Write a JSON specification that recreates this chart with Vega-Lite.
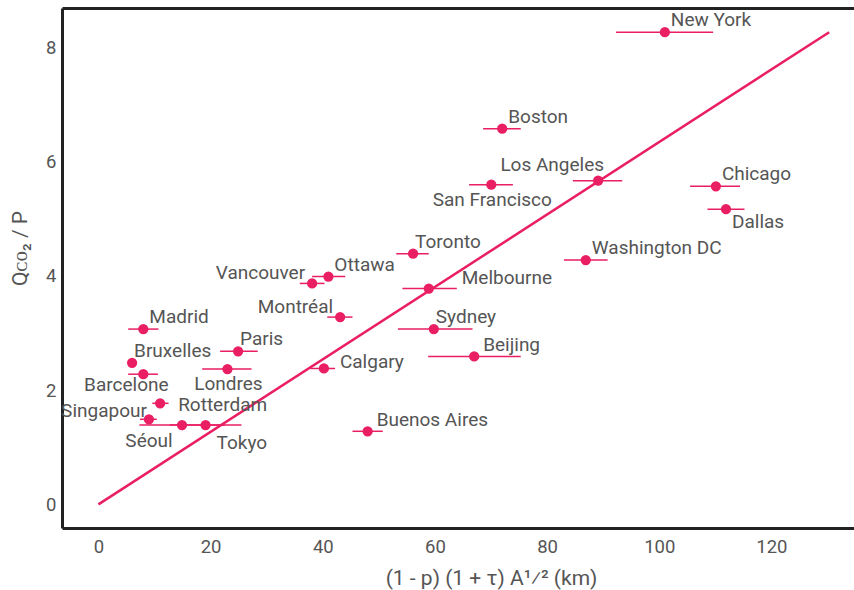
{
  "$schema": "https://vega.github.io/schema/vega-lite/v6.json",
  "width": 792,
  "height": 520,
  "autosize": {"type": "none"},
  "padding": {"left": 62, "top": 8, "right": 0, "bottom": 62},
  "background": "white",
  "config": {
    "view": {"stroke": null},
    "font": "Roboto",
    "axis": {
      "grid": false, "ticks": false, "domainColor": "#222", "domainWidth": 3,
      "labelColor": "#555", "labelFontSize": 18.5, "labelFont": "Roboto",
      "titleColor": "#555", "titleFontSize": 21, "titleFontWeight": "normal", "titleFont": "Roboto"
    },
    "text": {"font": "Roboto", "fontSize": 19, "color": "#555", "baseline": "middle"}
  },
  "datasets": {
    "cities": [
      {"city": "New York", "x": 101.0, "y": 8.27, "lo": 92.3, "hi": 109.6},
      {"city": "Boston", "x": 72.0, "y": 6.58, "lo": 68.6, "hi": 75.3},
      {"city": "Los Angeles", "x": 89.1, "y": 5.67, "lo": 84.6, "hi": 93.4},
      {"city": "San Francisco", "x": 70.05, "y": 5.60, "lo": 66.1, "hi": 73.9},
      {"city": "Chicago", "x": 110.1, "y": 5.57, "lo": 105.5, "hi": 114.4},
      {"city": "Dallas", "x": 111.9, "y": 5.17, "lo": 108.6, "hi": 115.2},
      {"city": "Washington DC", "x": 86.9, "y": 4.28, "lo": 83.0, "hi": 90.8},
      {"city": "Toronto", "x": 56.1, "y": 4.39, "lo": 53.1, "hi": 58.9},
      {"city": "Ottawa", "x": 41.0, "y": 3.99, "lo": 38.1, "hi": 44.0},
      {"city": "Vancouver", "x": 38.1, "y": 3.87, "lo": 35.9, "hi": 40.3},
      {"city": "Melbourne", "x": 58.9, "y": 3.78, "lo": 54.2, "hi": 63.9},
      {"city": "Montréal", "x": 43.1, "y": 3.28, "lo": 40.8, "hi": 45.3},
      {"city": "Sydney", "x": 59.8, "y": 3.07, "lo": 53.4, "hi": 66.7},
      {"city": "Beijing", "x": 67.0, "y": 2.59, "lo": 58.8, "hi": 75.3},
      {"city": "Calgary", "x": 40.2, "y": 2.38, "lo": 37.8, "hi": 42.2},
      {"city": "Buenos Aires", "x": 48.0, "y": 1.28, "lo": 45.3, "hi": 50.7},
      {"city": "Madrid", "x": 8.0, "y": 3.07, "lo": 5.3, "hi": 10.7},
      {"city": "Paris", "x": 24.9, "y": 2.68, "lo": 21.7, "hi": 28.4},
      {"city": "Bruxelles", "x": 6.0, "y": 2.48, "lo": null, "hi": null},
      {"city": "Londres", "x": 23.0, "y": 2.37, "lo": 18.5, "hi": 27.3},
      {"city": "Barcelone", "x": 8.0, "y": 2.28, "lo": 5.3, "hi": 10.6},
      {"city": "Rotterdam", "x": 11.0, "y": 1.77, "lo": 9.6, "hi": 12.5},
      {"city": "Singapour", "x": 9.0, "y": 1.49, "lo": 7.4, "hi": 10.4},
      {"city": "Séoul", "x": 14.9, "y": 1.39, "lo": 7.3, "hi": 22.5},
      {"city": "Tokyo", "x": 19.1, "y": 1.39, "lo": 12.7, "hi": 25.5}
    ],
    "fit": [
      {"x": 0, "y": 0},
      {"x": 130.3, "y": 8.27}
    ]
  },
  "resolve": {"axis": {"x": "independent"}},
  "layer": [
    {
      "data": {"name": "fit"},
      "mark": {"type": "line", "color": "#e91e63", "strokeWidth": 2.5, "clip": true},
      "encoding": {
        "x": {"field": "x", "type": "quantitative", "scale": {"domain": [-6.5, 134.73], "nice": false, "zero": false},
              "axis": {"orient": "top", "labels": false, "title": null, "domain": true}},
        "y": {"field": "y", "type": "quantitative", "scale": {"domain": [-0.414, 8.694], "nice": false, "zero": false},
              "axis": {"values": [0, 2, 4, 6, 8], "format": "d", "labelPadding": 6, "title": "Qᴄᴏ₂ / P", "titleX": -42, "titleY": 240, "titleAngle": -90, "titleBaseline": "middle", "titleAlign": "center"}}
      }
    },
    {
      "data": {"name": "cities"},
      "layer": [
        {
          "transform": [{"filter": "datum.lo != null"}],
          "mark": {"type": "rule", "color": "#e91e63", "strokeWidth": 1.5},
          "encoding": {
            "x": {"field": "lo", "type": "quantitative",
                  "axis": {"orient": "bottom", "values": [0, 20, 40, 60, 80, 100, 120], "labelPadding": 9,
                           "title": "(1 - p) (1 + τ) A¹⁄² (km)", "titleX": 429, "titleY": 50, "titleBaseline": "middle", "titleAlign": "center"}},
            "x2": {"field": "hi"},
            "y": {"field": "y", "type": "quantitative"}
          }
        },
        {
          "mark": {"type": "circle", "color": "#e91e63", "size": 105, "opacity": 1},
          "encoding": {
            "x": {"field": "x", "type": "quantitative"},
            "y": {"field": "y", "type": "quantitative"}
          }
        },
        {
          "transform": [{"filter": {"field": "city", "oneOf": ["New York", "Boston", "Chicago", "Washington DC", "Ottawa", "Madrid"]}}],
          "mark": {"type": "text", "align": "left", "dx": 6, "dy": -12},
          "encoding": {"x": {"field": "x", "type": "quantitative"}, "y": {"field": "y", "type": "quantitative"}, "text": {"field": "city"}}
        },
        {
          "transform": [{"filter": {"field": "city", "oneOf": ["Toronto", "Sydney", "Paris", "Bruxelles"]}}],
          "mark": {"type": "text", "align": "left", "dx": 2, "dy": -12},
          "encoding": {"x": {"field": "x", "type": "quantitative"}, "y": {"field": "y", "type": "quantitative"}, "text": {"field": "city"}}
        },
        {
          "transform": [{"filter": {"field": "city", "oneOf": ["Beijing", "Buenos Aires"]}}],
          "mark": {"type": "text", "align": "left", "dx": 9, "dy": -11},
          "encoding": {"x": {"field": "x", "type": "quantitative"}, "y": {"field": "y", "type": "quantitative"}, "text": {"field": "city"}}
        },
        {
          "transform": [{"filter": {"field": "city", "oneOf": ["Melbourne"]}}],
          "mark": {"type": "text", "align": "left", "dx": 33, "dy": -11},
          "encoding": {"x": {"field": "x", "type": "quantitative"}, "y": {"field": "y", "type": "quantitative"}, "text": {"field": "city"}}
        },
        {
          "transform": [{"filter": {"field": "city", "oneOf": ["Calgary"]}}],
          "mark": {"type": "text", "align": "left", "dx": 16, "dy": -6},
          "encoding": {"x": {"field": "x", "type": "quantitative"}, "y": {"field": "y", "type": "quantitative"}, "text": {"field": "city"}}
        },
        {
          "transform": [{"filter": {"field": "city", "oneOf": ["Rotterdam"]}}],
          "mark": {"type": "text", "align": "left", "dx": 18, "dy": 2},
          "encoding": {"x": {"field": "x", "type": "quantitative"}, "y": {"field": "y", "type": "quantitative"}, "text": {"field": "city"}}
        },
        {
          "transform": [{"filter": {"field": "city", "oneOf": ["Los Angeles"]}}],
          "mark": {"type": "text", "align": "right", "dx": 6, "dy": -16},
          "encoding": {"x": {"field": "x", "type": "quantitative"}, "y": {"field": "y", "type": "quantitative"}, "text": {"field": "city"}}
        },
        {
          "transform": [{"filter": {"field": "city", "oneOf": ["Dallas"]}}],
          "mark": {"type": "text", "align": "left", "dx": 6, "dy": 13},
          "encoding": {"x": {"field": "x", "type": "quantitative"}, "y": {"field": "y", "type": "quantitative"}, "text": {"field": "city"}}
        },
        {
          "transform": [{"filter": {"field": "city", "oneOf": ["San Francisco", "Londres"]}}],
          "mark": {"type": "text", "align": "center", "dx": 1, "dy": 15},
          "encoding": {"x": {"field": "x", "type": "quantitative"}, "y": {"field": "y", "type": "quantitative"}, "text": {"field": "city"}}
        },
        {
          "transform": [{"filter": {"field": "city", "oneOf": ["Barcelone"]}}],
          "mark": {"type": "text", "align": "center", "dx": -17, "dy": 11},
          "encoding": {"x": {"field": "x", "type": "quantitative"}, "y": {"field": "y", "type": "quantitative"}, "text": {"field": "city"}}
        },
        {
          "transform": [{"filter": {"field": "city", "oneOf": ["Séoul"]}}],
          "mark": {"type": "text", "align": "center", "dx": -33, "dy": 16},
          "encoding": {"x": {"field": "x", "type": "quantitative"}, "y": {"field": "y", "type": "quantitative"}, "text": {"field": "city"}}
        },
        {
          "transform": [{"filter": {"field": "city", "oneOf": ["Tokyo"]}}],
          "mark": {"type": "text", "align": "left", "dx": 11, "dy": 18},
          "encoding": {"x": {"field": "x", "type": "quantitative"}, "y": {"field": "y", "type": "quantitative"}, "text": {"field": "city"}}
        },
        {
          "transform": [{"filter": {"field": "city", "oneOf": ["Vancouver", "Montréal"]}}],
          "mark": {"type": "text", "align": "right", "dx": -7, "dy": -10},
          "encoding": {"x": {"field": "x", "type": "quantitative"}, "y": {"field": "y", "type": "quantitative"}, "text": {"field": "city"}}
        },
        {
          "transform": [{"filter": {"field": "city", "oneOf": ["Singapour"]}}],
          "mark": {"type": "text", "align": "right", "dx": -2, "dy": -8},
          "encoding": {"x": {"field": "x", "type": "quantitative"}, "y": {"field": "y", "type": "quantitative"}, "text": {"field": "city"}}
        }
      ]
    }
  ]
}
